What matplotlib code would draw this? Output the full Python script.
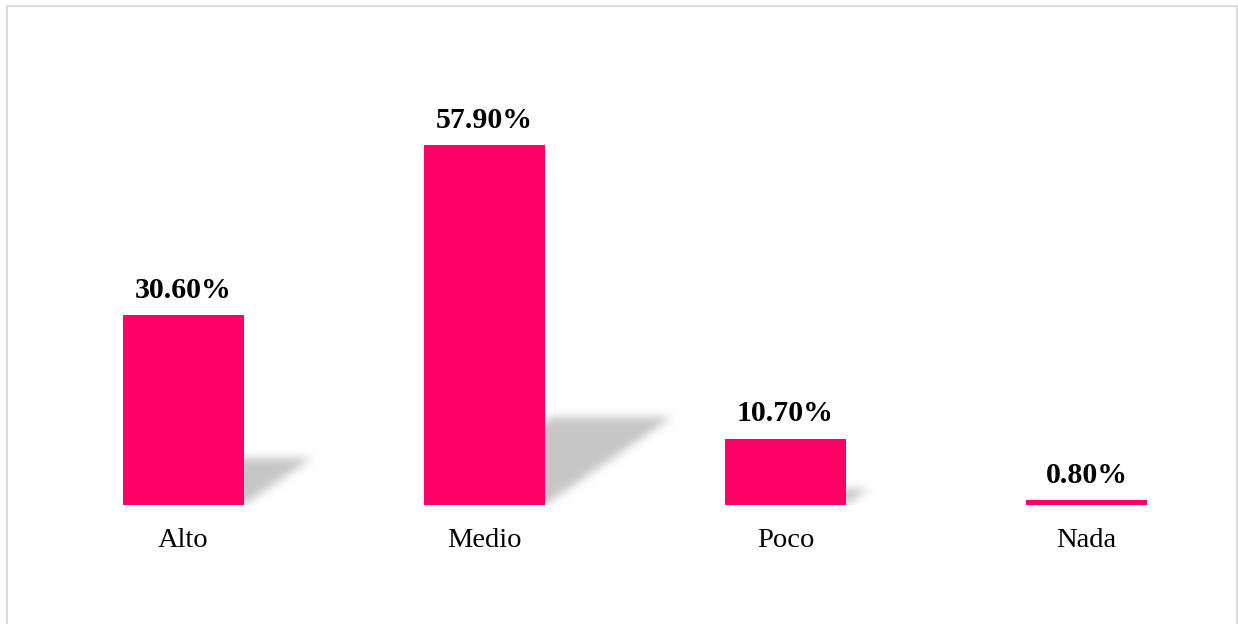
import matplotlib
matplotlib.use("Agg")
import matplotlib.pyplot as plt
import numpy as np
from matplotlib.path import Path
from matplotlib.patches import Rectangle

# survey answers and their shares (%)
categorias = ["Alto", "Medio", "Poco", "Nada"]
porcentajes = [30.6, 57.9, 10.7, 0.8]
etiquetas = ["30.60%", "57.90%", "10.70%", "0.80%"]

rosa = "#FF0066"
ancho = 0.4

plt.rcParams['font.family'] = ['Liberation Serif', 'DejaVu Serif']

fig = plt.figure(figsize=(12.38, 6.24), dpi=100)
ax = fig.add_axes([33/1238, 119/624, 1204/1238, 435/624])
xlim = (-0.5, 3.5)
ylim = (0, 70)
ax.set_xlim(*xlim)
ax.set_ylim(*ylim)

# outer frame of the chart area
fig.patches.append(Rectangle((7/1238, -0.01), 1230/1238, 1.01 - 6/624,
                             transform=fig.transFigure, fill=False,
                             edgecolor="#dcdcdc", linewidth=1.5))

x = np.arange(len(categorias))

# perspective shadow behind each bar, rasterized then blurred
W, H = 1204, 435
xs = xlim[0] + (np.arange(W) + 0.5) / W * (xlim[1] - xlim[0])
ys = ylim[1] - (np.arange(H) + 0.5) / H * (ylim[1] - ylim[0])
gx, gy = np.meshgrid(xs, ys)
pts = np.column_stack([gx.ravel(), gy.ravel()])
mask = np.zeros(W * H)
px_x = W / (xlim[1] - xlim[0])
px_y = H / (ylim[1] - ylim[0])
for xi, v in zip(x, porcentajes):
    hs = 0.245 * v
    s = 1.45 * hs * px_y / px_x
    poly = Path([(xi - ancho/2, 0), (xi + ancho/2, 0),
                 (xi + ancho/2 + s, hs), (xi - ancho/2 + s, hs)])
    mask[poly.contains_points(pts)] = 1.0
mask = mask.reshape(H, W)

sigma = 4.5
k = np.arange(-15, 16)
kern = np.exp(-k**2 / (2 * sigma**2))
kern /= kern.sum()
mask = np.apply_along_axis(lambda r: np.convolve(r, kern, mode="same"), 1, mask)
mask = np.apply_along_axis(lambda c: np.convolve(c, kern, mode="same"), 0, mask)

sombra = np.zeros((H, W, 4))
sombra[..., :3] = 0.78
sombra[..., 3] = np.clip(mask, 0, 1)
ax.imshow(sombra, extent=(xlim[0], xlim[1], ylim[0], ylim[1]),
          aspect="auto", zorder=1, interpolation="bilinear")

ax.bar(x, porcentajes, width=ancho, color=rosa, zorder=3)

for xi, v, t in zip(x, porcentajes, etiquetas):
    ax.annotate(t, (xi, v), xytext=(0, 8), textcoords="offset points",
                ha="center", va="bottom", fontsize=21.5, fontweight="bold")

ax.set_xticks(x)
ax.set_xticklabels(categorias, fontsize=20.5)
ax.tick_params(axis="x", length=0, pad=16.5)
ax.set_yticks([])
for sp in ax.spines.values():
    sp.set_visible(False)

fig.savefig("out.png", dpi=100)
